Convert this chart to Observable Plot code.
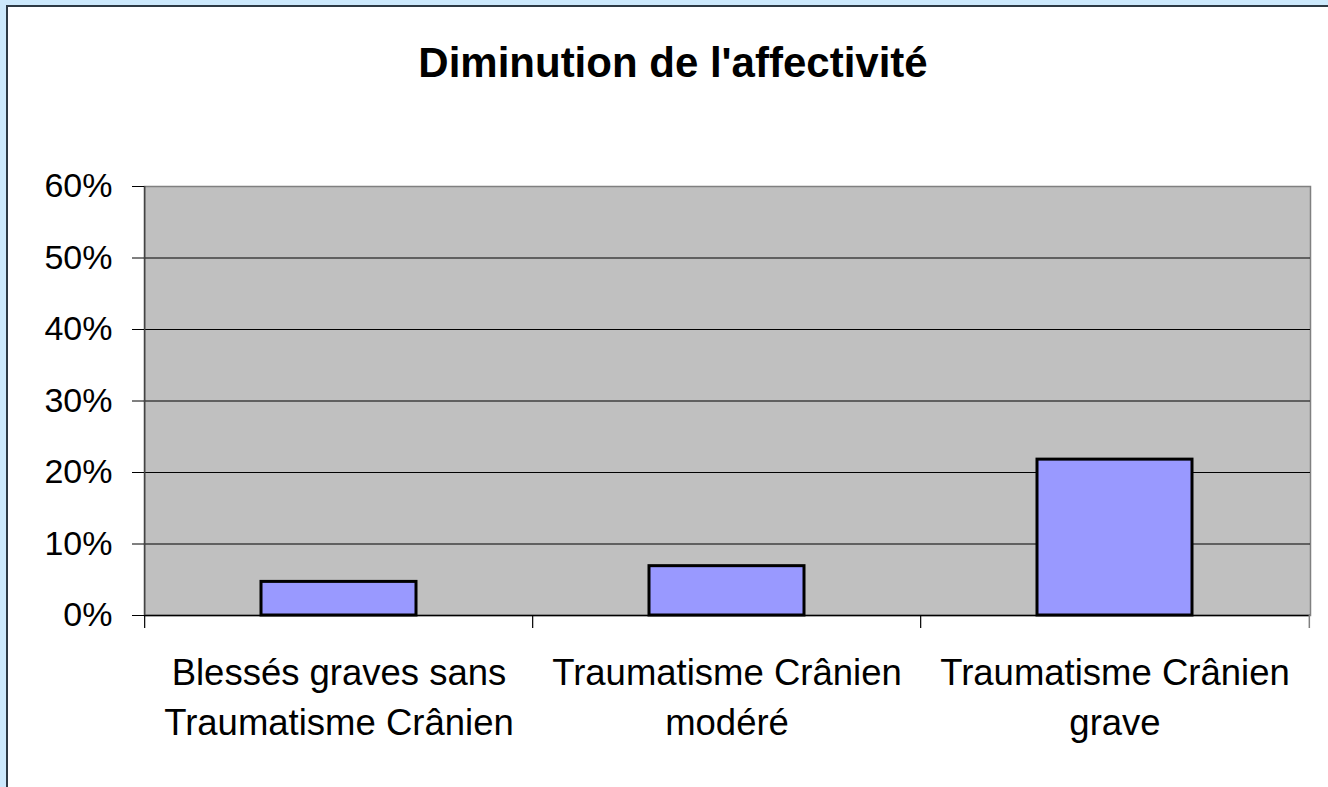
<!DOCTYPE html>
<html>
<head>
<meta charset="utf-8">
<script src="https://cdn.jsdelivr.net/npm/d3@7"></script>
<script src="https://cdn.jsdelivr.net/npm/@observablehq/plot@0.6"></script>
<style>
  html, body { margin: 0; padding: 0; width: 1328px; height: 787px; overflow: hidden; background: #cce9fc; }
  #frame { position: absolute; left: 6px; top: 5px; width: 1340px; height: 800px; background: #ffffff;
           border-top: 2.5px solid #2d3a44; border-left: 2.5px solid #2d3a44; }
  #title { position: absolute; left: 0; top: 39px; width: 1346px; text-align: center;
           font-family: "Liberation Sans", Arial, sans-serif; font-weight: bold; font-size: 42px; color: #000; }
  #chart { position: absolute; left: 0; top: 0; }
  #chart svg { background: transparent; }
</style>
</head>
<body>
<div id="frame"></div>
<div id="title">Diminution de l'affectivité</div>
<div id="chart"></div>
<script>
const categories = [
  "Blessés graves sans\nTraumatisme Crânien",
  "Traumatisme Crânien\nmodéré",
  "Traumatisme Crânien\ngrave"
];
const values = [0.047, 0.069, 0.218];
const yTicks = [0, 0.1, 0.2, 0.3, 0.4, 0.5, 0.6];
const gridTicks = [0.1, 0.2, 0.3, 0.4, 0.5];

const data = categories.map((c, i) => ({category: c, value: values[i]}));

const W = 1328, H = 787;
const mL = 144, mR = 18, mT = 186, mB = 172;
const step = (W - mL - mR) / categories.length;

const plot = Plot.plot({
  width: W,
  height: H,
  marginLeft: mL,
  marginRight: mR,
  marginTop: mT,
  marginBottom: mB,
  style: {fontFamily: "'Liberation Sans', Arial, sans-serif", color: "#000", background: "transparent", overflow: "visible"},
  x: {domain: categories, paddingInner: 0.6, paddingOuter: 0.3, label: null},
  y: {domain: [0, 0.6], label: null},
  marks: [
    Plot.frame({fill: "#c0c0c0", stroke: "#808080", strokeWidth: 1.5}),
    Plot.ruleY(gridTicks, {stroke: "#000", strokeWidth: 1.2}),
    Plot.barY(data, {x: "category", y: "value", fill: "#9999ff", stroke: "#000", strokeWidth: 3}),
    Plot.ruleY([0], {stroke: "#000", strokeWidth: 1.5}),
    Plot.ruleX(categories, {x: d => d, dx: -step / 2, y1: 0, y2: 0, insetBottom: -13, stroke: "#000", strokeWidth: 1.2}),
    Plot.ruleX(categories.slice(-1), {x: d => d, dx: step / 2, y1: 0, y2: 0, insetBottom: -13, stroke: "#808080", strokeWidth: 1.5}),
    Plot.ruleX(categories.slice(0, 1), {x: d => d, dx: -step / 2, stroke: "#444", strokeWidth: 1.5}),
    Plot.axisY({ticks: yTicks, tickFormat: d3.format(".0%"), tickSize: 12, tickPadding: 20, fontSize: 34, stroke: "#000"}),
    Plot.axisX({tickSize: 0, tickPadding: 34, fontSize: 36.5, lineHeight: 1.37})
  ]
});
document.getElementById("chart").appendChild(plot);
</script>
</body>
</html>
